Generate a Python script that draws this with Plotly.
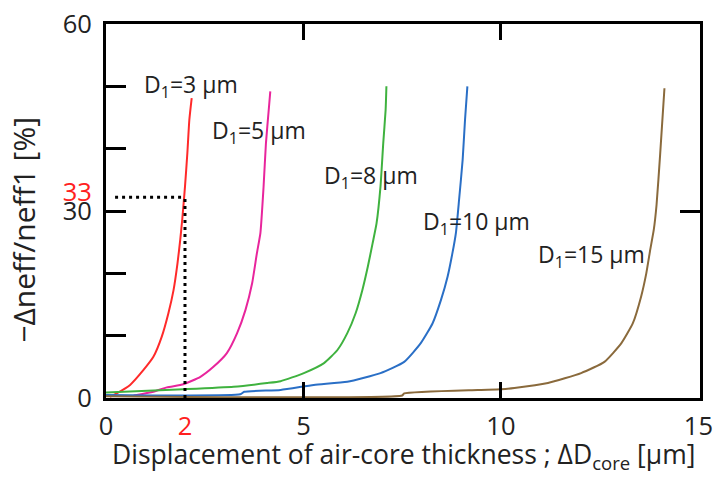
import plotly.graph_objects as go

# ---- data ----
red_x = [0.1, 0.27, 0.61, 0.95, 1.20, 1.41, 1.58, 1.71, 1.81, 1.88, 1.93, 2.0, 2.06, 2.11, 2.17]
red_y = [0.2, 0.75, 2.1, 4.5, 6.6, 9.8, 13.6, 17.3, 21.6, 25.4, 28.6, 33.9, 39.3, 44.6, 48.1]

pink_x = [0.7, 1.2, 1.54, 1.96, 2.39, 2.72, 3.06, 3.32, 3.53, 3.70, 3.82, 3.91, 3.99, 4.05, 4.12, 4.16]
pink_y = [0.4, 1.0, 1.7, 2.2, 3.4, 5.0, 7.2, 10.4, 14.1, 18.4, 23.2, 26.5, 33.9, 40.9, 46.2, 49.2]

green_x = [0, 1.96, 3.23, 4.08, 4.42, 5.01, 5.52, 5.86, 6.11, 6.32, 6.49, 6.63, 6.75, 6.85, 6.95, 7.02, 7.08, 7.1]
green_y = [0.9, 1.4, 1.8, 2.4, 2.7, 4.0, 5.6, 7.7, 10.4, 13.6, 17.3, 21.1, 24.8, 28, 33.9, 40.9, 46.2, 50]

blue_x = [0, 3.4, 3.5, 4.42, 5.26, 6.11, 6.95, 7.55, 7.97, 8.27, 8.48, 8.65, 8.77, 8.86, 8.94, 9.03, 9.09, 9.15]
blue_y = [0.5, 0.6, 1.0, 1.3, 2.1, 2.6, 4.0, 5.8, 8.8, 12.0, 15.7, 19.5, 23.2, 26.5, 31.8, 38.2, 44.6, 50]

brown_x = [0, 7.5, 7.55, 9.41, 10.0, 10.34, 11.19, 12.03, 12.62, 13.05, 13.34, 13.55, 13.68, 13.78,
           13.87, 13.94, 14.03, 14.14]
brown_y = [0.3, 0.4, 0.75, 1.3, 1.4, 1.6, 2.4, 4.0, 5.8, 8.8, 12.0, 16.3, 20.0, 23.8,
           27, 31, 39, 49.7]

series_names = ["D<sub>1</sub>=3 μm", "D<sub>1</sub>=5 μm", "D<sub>1</sub>=8 μm",
                "D<sub>1</sub>=10 μm", "D<sub>1</sub>=15 μm"]
series_colors = ["#ff2a2a", "#e8259c", "#3fb23f", "#2a6fc6", "#8a6a3c"]
label_x = [0.91, 2.64, 5.47, 7.97, 10.89]
label_y = [50.2, 42.8, 35.5, 28.2, 22.8]

mark_x = 2
mark_y = 32.2
mark_start_x = 0.23

x_range = [0, 15.04]
x_ticks = [0, 2, 5, 10, 15]
x_ticktext = ["0", "<span style='color:#ff2020'>2</span>", "5", "10", "15"]
x_minor = [5, 10]
y_range = [0, 60]
y_ticks = [0, 30, 33, 60]
y_ticktext = ["0", "30", "<span style='color:#ff2020'>33</span>", "60"]
y_minor = [10, 20, 30, 40, 50]
y_right = [30]

x_title = "Displacement of air-core thickness ; ΔD<sub>core</sub> [μm]"
y_title = "−Δneff/neff1 [%]"

FONT = "Open Sans"
TXT = "#222222"

fig = go.Figure()
all_x = [red_x, pink_x, green_x, blue_x, brown_x]
all_y = [red_y, pink_y, green_y, blue_y, brown_y]
for xs, ys, c in zip(all_x, all_y, series_colors):
    fig.add_trace(go.Scatter(x=xs, y=ys, mode="lines",
                             line=dict(color=c, width=2, shape="spline", smoothing=0.5),
                             showlegend=False, hoverinfo="skip"))

# dotted guide lines
fig.add_trace(go.Scatter(x=[mark_start_x, mark_x - 0.07], y=[mark_y, mark_y], mode="lines",
                         line=dict(color="black", width=3, dash="3px,4px"), showlegend=False))
fig.add_trace(go.Scatter(x=[mark_x, mark_x], y=[0, mark_y], mode="lines",
                         line=dict(color="black", width=3, dash="3px,4px"), showlegend=False))

# dummy trace for right axis
fig.add_trace(go.Scatter(x=[None], y=[None], yaxis="y2", showlegend=False))

for name, lx, ly in zip(series_names, label_x, label_y):
    fig.add_annotation(x=lx, y=ly, text=name, showarrow=False, xanchor="left", yanchor="middle",
                       font=dict(family=FONT, size=23, color=TXT))

fig.add_annotation(xref="paper", yref="paper", x=0.5, y=-0.153, text=x_title, showarrow=False,
                   xanchor="center", yanchor="middle", font=dict(family=FONT, size=26.5, color=TXT))
fig.add_annotation(xref="paper", yref="paper", x=-0.138, y=0.45, text=y_title, showarrow=False,
                   textangle=-90, xanchor="center", yanchor="middle",
                   font=dict(family=FONT, size=30, color=TXT))

fig.update_layout(
    width=713, height=486,
    margin=dict(l=106, r=13, t=24, b=88),
    paper_bgcolor="white", plot_bgcolor="white",
    font=dict(family=FONT, color=TXT),
    xaxis=dict(range=x_range, tickvals=x_ticks, ticktext=x_ticktext, ticks="",
               showline=True, linecolor="black", linewidth=3, mirror="ticks",
               showgrid=False, zeroline=False, automargin=False, ticklabelstandoff=3,
               ticklabeloverflow="allow",
               tickfont=dict(family=FONT, size=25.5, color=TXT),
               minor=dict(tickvals=x_minor, ticks="inside", ticklen=16, tickwidth=2.5, tickcolor="black")),
    yaxis=dict(range=y_range, tickvals=y_ticks, ticktext=y_ticktext, ticks="",
               showline=True, linecolor="black", linewidth=3, mirror=True,
               showgrid=False, zeroline=False, automargin=False, ticklabelstandoff=6,
               ticklabeloverflow="allow",
               tickfont=dict(family=FONT, size=25.5, color=TXT),
               minor=dict(tickvals=y_minor, ticks="inside", ticklen=20, tickwidth=2.5, tickcolor="black")),
    yaxis2=dict(range=y_range, overlaying="y", side="right", tickvals=y_right, ticks="inside",
                ticklen=20, tickwidth=2.5, tickcolor="black", showticklabels=False,
                showgrid=False, zeroline=False, showline=False, automargin=False),
)

fig.write_html("out.html")
